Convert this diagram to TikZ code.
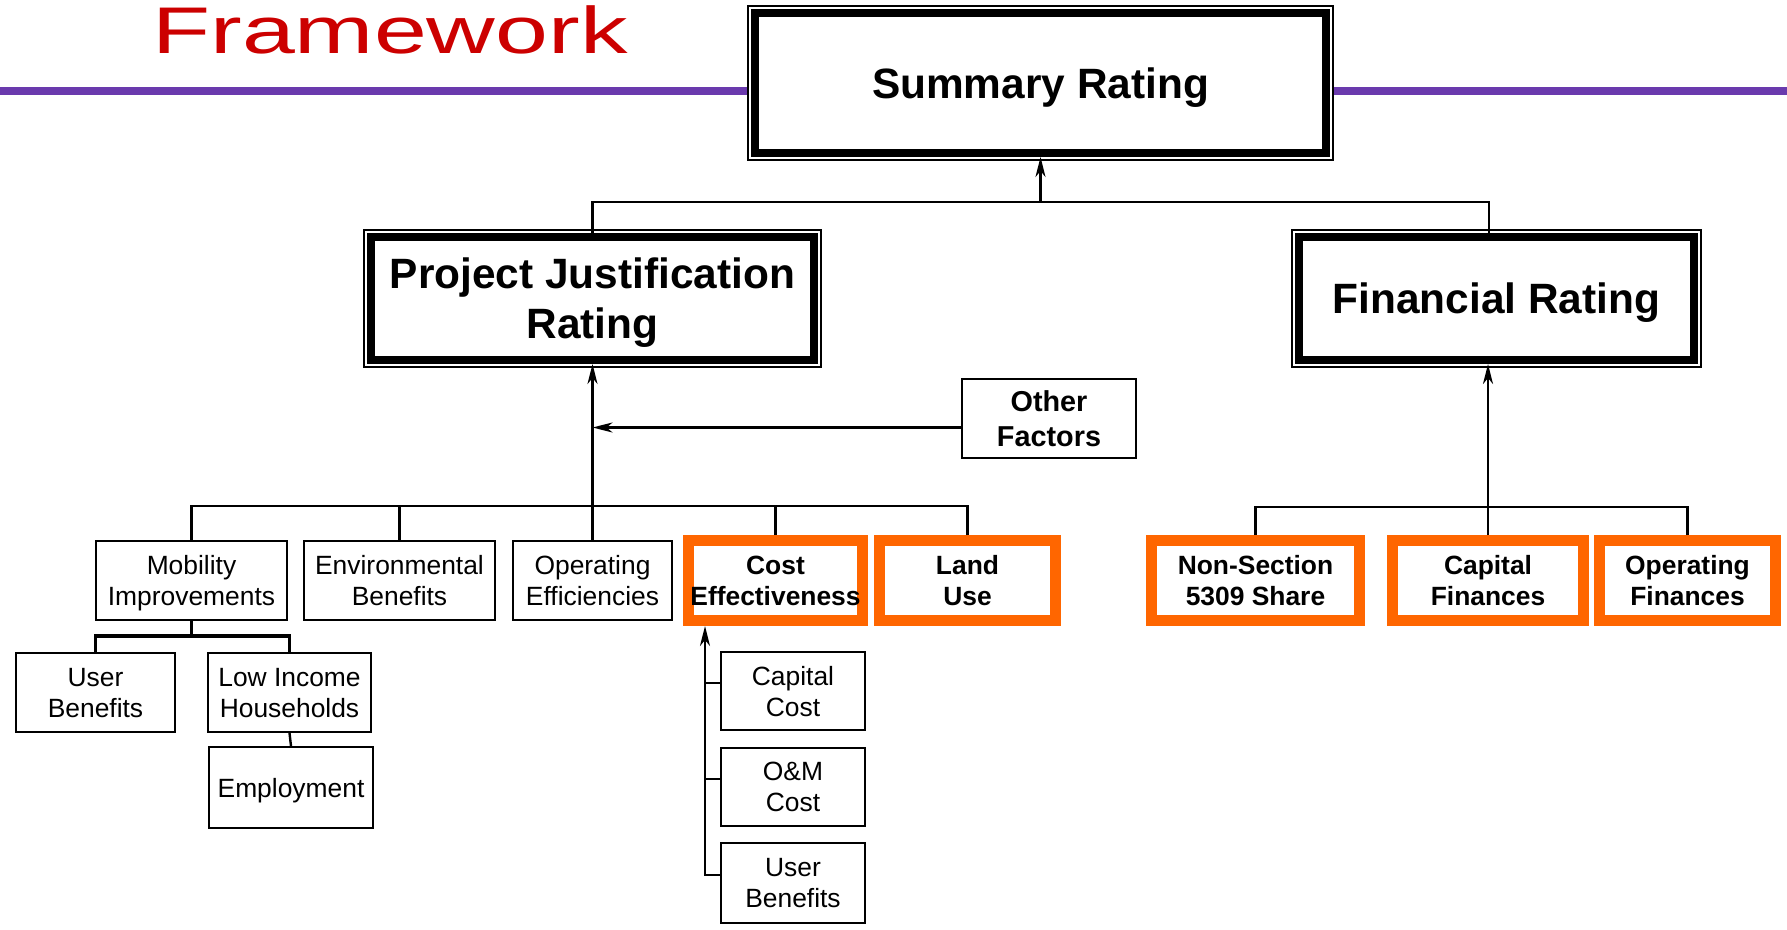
\documentclass[tikz,border=0pt]{standalone}
\usepackage{fontspec}
\setmainfont{Liberation Sans}
\usepackage{tikz}
\usetikzlibrary{arrows.meta}
\definecolor{keyorange}{RGB}{255,102,0}
\definecolor{rulepurple}{RGB}{106,58,173}
\definecolor{titlered}{RGB}{204,0,0}
\tikzstyle{box}=[rectangle,draw,line width=1.2pt,fill=white,text=black,inner sep=0pt,align=center,text depth=0pt,minimum height=39.25pt,font=\fontsize{13.2}{15.5}\selectfont]
\tikzstyle{keybox}=[box,draw=keyorange,line width=5.5pt,minimum height=40pt,font=\bfseries\fontsize{13.2}{15.5}\selectfont]
\tikzstyle{rating}=[rectangle,draw,fill=white,line width=4pt,inner sep=0pt,align=center,text depth=0pt,font=\bfseries\fontsize{21.2}{25}\selectfont,preaction={draw,line width=8pt},preaction={draw=white,line width=6pt}]
\tikzstyle{link}=[line width=1.2pt]
\tikzstyle{feed}=[->,line width=1.2pt,>={Stealth[length=10pt,width=5pt,inset=3pt]}]

\begin{document}
\begin{tikzpicture}[x=0.5pt,y=-0.5pt]
  \useasboundingbox (0,0) rectangle (1787,930);

  % titre et filet
  \node[anchor=base west,text=titlered,inner sep=0pt,font=\fontsize{33}{38}\selectfont] (title) at (152,54) {\scalebox{1.44}[1]{Framework}};
  \draw[rulepurple,line width=4pt] (0,91) -- (1787,91);

  \node[rating,minimum width=285.5pt,minimum height=70pt] (sum) at (1040.5,83) {Summary Rating};
  \node[rating,minimum width=221.5pt,minimum height=61.5pt] (pj) at (592.5,298.5) {Project Justification\\Rating};
  \node[rating,minimum width=197.5pt,minimum height=61.5pt] (fin) at (1496.5,298.5) {Financial Rating};
  \node[box,minimum width=86.75pt,font=\bfseries\fontsize{14.4}{17.5}\selectfont] (of) at (1049,418.5) {Other\\Factors};

  \node[box,minimum width=95.25pt] (mob) at (191.5,580.5) {Mobility\\Improvements};
  \node[box,minimum width=95.25pt] (env) at (399.5,580.5) {Environmental\\Benefits};
  \node[box,minimum width=79.25pt] (ope) at (592.5,580.5) {Operating\\Efficiencies};
  \node[keybox,minimum width=87pt] (ce) at (775.5,580.5) {Cost\\Effectiveness};
  \node[keybox,minimum width=88pt] (land) at (967.5,580.5) {Land\\Use};
  \node[keybox,minimum width=104pt] (nss) at (1255.5,580.5) {Non-Section\\5309 Share};
  \node[keybox,minimum width=95.5pt] (capf) at (1488,580.5) {Capital\\Finances};
  \node[keybox,minimum width=88pt] (opf) at (1687.5,580.5) {Operating\\Finances};

  \node[box,minimum width=79.25pt] (ub) at (95.5,692.5) {User\\Benefits};
  \node[box,minimum width=81.25pt] (li) at (289.5,692.5) {Low Income\\Households};
  \node[box,minimum width=81.75pt,minimum height=40.25pt] (emp) at (291,787.5) {Employment};

  \node[box,minimum width=71.75pt,minimum height=38.75pt] (cc) at (793,691) {Capital\\Cost};
  \node[box,minimum width=71.75pt,minimum height=38.75pt] (om) at (793,787) {O\&M\\Cost};
  \node[box,minimum width=71.75pt,minimum height=39.75pt] (ub2) at (793,883) {User\\Benefits};

  % liaisons
  \coordinate (finbus) at (1489,202);
  \coordinate (top) at (sum.south |- finbus);
  \draw[link] (pj.north) |- (finbus) -- (finbus |- fin.north);
  \draw[feed] (top) -- (sum.south);

  \coordinate (pjbus) at (592.5,506);
  \draw[feed] (pjbus) -- (pj.south);
  \draw[feed] ([yshift=-4.5pt]of.west) coordinate (ofw) -- (ofw -| pj.south);
  \foreach \n in {mob,env,ope,ce,land} \draw[link] (\n.north) |- (pjbus);

  \coordinate (finbus2) at (1488,507);
  \draw[feed] (finbus2) -- (finbus2 |- fin.south);
  \foreach \n in {nss,capf,opf} \draw[link] (\n.north) |- (finbus2);

  \coordinate (mobbus) at (191.5,636);
  \draw[link] (mob.south) -- (mobbus);
  \draw[link,line width=1.6pt] (ub.north) |- (mobbus) -| (li.north);
  \draw[link] (li.south) -- (emp.north);

  \coordinate (cespine) at (705,626);
  \draw[feed] ([yshift=4pt]ub2.west) coordinate (ubw) -| (cespine);
  \draw[link] ([yshift=4pt]cc.west) coordinate (ccw) -- (ccw -| cespine);
  \draw[link] ([yshift=4pt]om.west) coordinate (omw) -- (omw -| cespine);

\end{tikzpicture}
\end{document}
